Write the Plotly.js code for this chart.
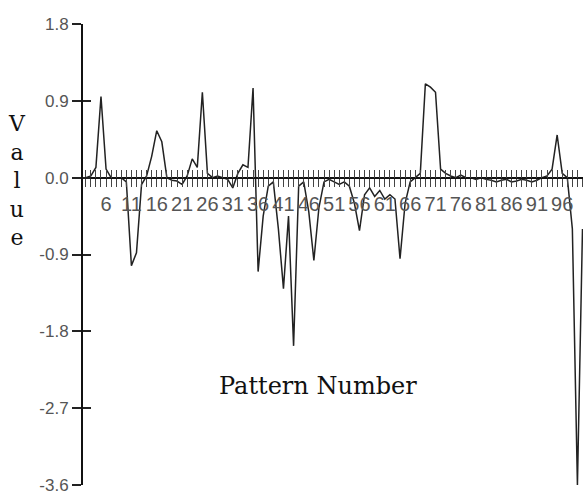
<!DOCTYPE html>
<html>
<head>
<meta charset="utf-8">
<script src="https://cdn.plot.ly/plotly-3.0.1.min.js"></script>
<style>html,body{margin:0;padding:0;background:#fff;}#chart{width:583px;height:495px;}</style>
</head>
<body>
<div id="chart"></div>
<script>
// Pattern numbers 1..100
const patterns = [];
for (let i = 1; i <= 100; i++) patterns.push(i);

// Values
const values = [
  0.0, 0.0, 0.02, 0.12, 0.95, 0.1, 0.0, 0.0, 0.0, -0.05,
  -1.03, -0.88, -0.08, 0.02, 0.25, 0.55, 0.42, 0.0, -0.03, -0.04,
  -0.08, 0.02, 0.22, 0.12, 1.0, 0.05, 0.0, 0.02, 0.0, -0.02,
  -0.12, 0.05, 0.15, 0.12, 1.05, -1.1, -0.45, -0.1, -0.05, -0.6,
  -1.3, -0.45, -1.97, -0.1, -0.05, -0.4, -0.97, -0.35, -0.05, -0.02,
  -0.05, -0.08, -0.05, -0.1, -0.3, -0.62, -0.2, -0.12, -0.22, -0.15,
  -0.25, -0.2, -0.25, -0.95, -0.3, -0.05, 0.0, 0.05, 1.1, 1.06,
  1.0, 0.1, 0.05, 0.02, 0.0, 0.03, 0.0, 0.0, -0.02, 0.0,
  -0.02, -0.03, -0.05, -0.03, -0.02, -0.05, -0.04, -0.02, -0.03, -0.05,
  -0.03, 0.0, 0.02, 0.1, 0.5, 0.05, 0.0, -0.6, -3.6, -0.6
];

// Tick labels: every fifth pattern from 6
const xTickVals = patterns;
const xTickText = patterns.map(p => (p > 1 && (p - 1) % 5 === 0) ? String(p) : '');
const yTickVals = [1.8, 0.9, 0.0, -0.9, -1.8, -2.7, -3.6];
const yTickText = ['1.8', '0.9', '0.0', '-0.9', '-1.8', '-2.7', '-3.6'];

const xRange = [1.45, 100.1];
const yRange = [-3.6, 1.8];
const zeroPos = (0 - yRange[0]) / (yRange[1] - yRange[0]);

const xTickFont = {family: 'Liberation Sans, Arial, sans-serif', size: 20, color: '#555'};
const yTickFont = {family: 'Liberation Sans, Arial, sans-serif', size: 17, color: '#555'};

const traces = [
  {
    x: patterns, y: values, type: 'scatter', mode: 'lines',
    line: {color: '#222', width: 1.5},
    xaxis: 'x', yaxis: 'y', hoverinfo: 'skip'
  },
  {
    x: patterns, y: values, type: 'scatter', mode: 'lines',
    line: {color: 'rgba(0,0,0,0)', width: 0},
    xaxis: 'x2', yaxis: 'y2', hoverinfo: 'skip', showlegend: false
  }
];

const layout = {
  width: 583, height: 495,
  margin: {l: 83, r: 0, t: 24, b: 10, pad: 0},
  paper_bgcolor: '#fff', plot_bgcolor: '#fff',
  showlegend: false,
  xaxis: {
    range: xRange, anchor: 'free', position: zeroPos,
    showgrid: false, zeroline: false,
    showline: true, linecolor: '#111', linewidth: 2,
    ticks: 'outside', ticklen: 8, tickwidth: 1, tickcolor: '#444',
    tickmode: 'array', tickvals: xTickVals, ticktext: xTickText,
    tickfont: xTickFont, tickangle: 0, ticklabeloverflow: 'allow'
  },
  xaxis2: {
    range: xRange, overlaying: 'x', anchor: 'free', position: zeroPos,
    showgrid: false, zeroline: false, showline: false,
    ticks: 'inside', ticklen: 8, tickwidth: 1, tickcolor: '#444',
    tickmode: 'array', tickvals: xTickVals, showticklabels: false
  },
  yaxis: {
    range: yRange, showgrid: false, zeroline: false,
    showline: true, linecolor: '#111', linewidth: 2,
    ticks: 'outside', ticklen: 9, tickwidth: 2, tickcolor: '#222',
    tickmode: 'array', tickvals: yTickVals, ticktext: yTickText,
    tickfont: yTickFont, ticklabeloverflow: 'allow'
  },
  yaxis2: {
    range: yRange, overlaying: 'y', anchor: 'x', side: 'left',
    showgrid: false, zeroline: false, showline: false,
    ticks: 'inside', ticklen: 8, tickwidth: 2, tickcolor: '#222',
    tickmode: 'array', tickvals: yTickVals, showticklabels: false
  },
  annotations: [
    {
      text: 'V<br>a<br>l<br>u<br>e', xref: 'paper', yref: 'paper',
      x: -0.132, y: 0.66, xanchor: 'center', yanchor: 'middle',
      showarrow: false, align: 'center',
      font: {family: 'DejaVu Serif, serif', size: 22, color: '#111'}
    },
    {
      text: 'Pattern Number', xref: 'paper', yref: 'paper',
      x: 0.47, y: 0.215, xanchor: 'center', yanchor: 'middle',
      showarrow: false,
      font: {family: 'DejaVu Serif, serif', size: 24, color: '#111'}
    }
  ]
};

Plotly.newPlot('chart', traces, layout, {displayModeBar: false, staticPlot: true});
</script>
</body>
</html>
